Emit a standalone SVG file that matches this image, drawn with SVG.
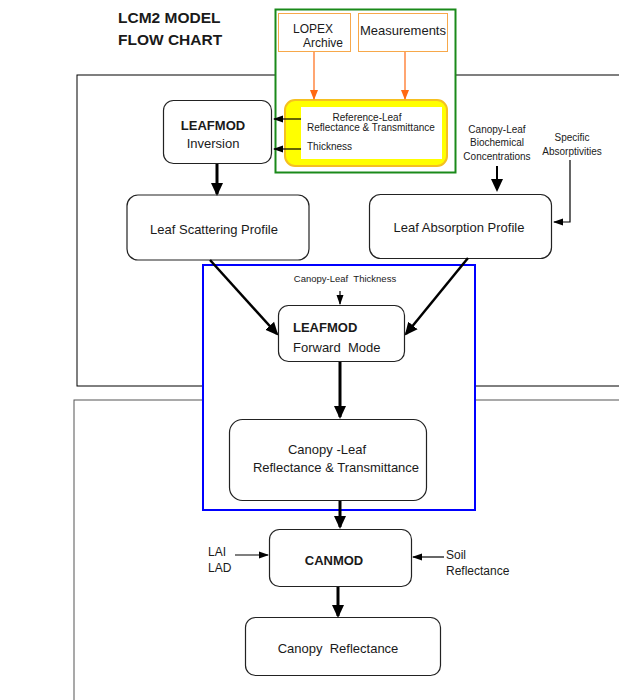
<svg xmlns="http://www.w3.org/2000/svg" width="619" height="700" viewBox="0 0 619 700">
<style>
text{font-family:"Liberation Sans",Arial,sans-serif;fill:#1a1a1a;white-space:pre}
.node{fill:#fff;stroke:#222;stroke-width:1.2}
.t13{font-size:13px}
.t12{font-size:12px}
.t10{font-size:10px}
.b{font-weight:bold}
.thick{stroke:#000;stroke-width:3;fill:none}
.thin{stroke:#000;stroke-width:1.2;fill:none}
.orange{stroke:#ff6a13;stroke-width:1.2;fill:none}
</style>
<defs>
<marker id="big" markerUnits="userSpaceOnUse" markerWidth="14" markerHeight="14" viewBox="0 0 14 14" refX="11" refY="7" orient="auto"><path d="M0,1 L13,7 L0,13 z" fill="#000"/></marker>
<marker id="small" markerUnits="userSpaceOnUse" markerWidth="10" markerHeight="10" viewBox="0 0 10 10" refX="9" refY="5" orient="auto"><path d="M0,1.5 L10,5 L0,8.5 z" fill="#000"/></marker>
<marker id="orangeHead" markerUnits="userSpaceOnUse" markerWidth="10" markerHeight="10" viewBox="0 0 10 10" refX="9" refY="5" orient="auto"><path d="M0,1 L10,5 L0,9 z" fill="#ff6a13"/></marker>
</defs>

<g id="frames">
<rect x="77" y="75" width="570" height="311" fill="none" stroke="#000" stroke-width="1"/>
<rect x="74" y="400" width="570" height="330" fill="none" stroke="#555" stroke-width="1"/>
<rect id="blue-box" x="203" y="265" width="272" height="245" fill="#fff" stroke="#0000ff" stroke-width="2"/>
<rect id="green-box" x="275.5" y="9.5" width="180" height="163" fill="#fff" stroke="#1a8a1a" stroke-width="2"/>
</g>

<g id="title">
<text x="118" y="23" style="font-size:15.5px;font-weight:bold">LCM2 MODEL</text>
<text x="118" y="45" style="font-size:15.5px;font-weight:bold">FLOW CHART</text>
</g>

<g id="lopex">
<rect x="278.5" y="13.5" width="72" height="38" fill="#fff" stroke="#f7a84a" stroke-width="1"/>
<text x="293" y="33" class="t12">LOPEX</text>
<text x="303" y="47" class="t12">Archive</text>
</g>
<g id="measurements">
<rect x="358.5" y="13.5" width="89" height="38" fill="#fff" stroke="#f7a84a" stroke-width="1"/>
<text x="403" y="35" class="t13" text-anchor="middle">Measurements</text>
</g>

<g id="reference-leaf">
<rect x="285" y="100" width="162" height="66" rx="10" fill="#ffff00" stroke="#f5c020" stroke-width="2"/>
<rect x="301" y="107" width="141" height="52" fill="#fff"/>
<text x="367" y="121" class="t10" text-anchor="middle">Reference-Leaf</text>
<text x="307" y="131" class="t10">Reflectance &amp; Transmittance</text>
<text x="307" y="150" class="t10">Thickness</text>
</g>

<g id="leafmod-inversion">
<rect x="163.5" y="100.5" width="108" height="63" rx="10" class="node"/>
<text x="213" y="130" class="t13 b" text-anchor="middle">LEAFMOD</text>
<text x="213" y="148" class="t13" text-anchor="middle">Inversion</text>
</g>

<g id="leaf-scattering">
<rect x="127" y="195" width="182" height="65" rx="11" class="node"/>
<text x="214" y="234" class="t13" text-anchor="middle">Leaf Scattering Profile</text>
</g>

<g id="leaf-absorption">
<rect x="369.5" y="194.5" width="182" height="64" rx="11" class="node"/>
<text x="459" y="232" class="t13" text-anchor="middle">Leaf Absorption Profile</text>
</g>

<g id="biochem-label">
<text x="497" y="133" class="t10" text-anchor="middle">Canopy-Leaf</text>
<text x="497" y="146" class="t10" text-anchor="middle">Biochemical</text>
<text x="497" y="160" class="t10" text-anchor="middle">Concentrations</text>
</g>
<g id="specific-label">
<text x="572" y="141" class="t10" text-anchor="middle">Specific</text>
<text x="572" y="155" class="t10" text-anchor="middle">Absorptivities</text>
</g>

<g id="thickness-label">
<text x="345" y="282" class="t10" text-anchor="middle" style="font-size:9.5px">Canopy-Leaf  Thickness</text>
</g>

<g id="leafmod-forward">
<rect x="278.5" y="305.5" width="126" height="56" rx="10" class="node"/>
<text x="293" y="332" class="t13 b">LEAFMOD</text>
<text x="293" y="352" class="t13">Forward  Mode</text>
</g>

<g id="canopy-leaf">
<rect x="229.5" y="419.5" width="197" height="81" rx="13" class="node"/>
<text x="327" y="454" class="t13" text-anchor="middle">Canopy -Leaf</text>
<text x="336" y="472" class="t13" text-anchor="middle">Reflectance &amp; Transmittance</text>
</g>

<g id="canmod">
<rect x="269.5" y="529.5" width="142" height="57" rx="10" class="node"/>
<text x="334" y="565" class="t13 b" text-anchor="middle">CANMOD</text>
</g>

<g id="lai-label">
<text x="208" y="556" class="t12">LAI</text>
<text x="208" y="572" class="t12">LAD</text>
</g>
<g id="soil-label">
<text x="446" y="559" class="t12">Soil</text>
<text x="446" y="575" class="t12">Reflectance</text>
</g>

<g id="canopy-reflectance">
<rect x="245.5" y="617.5" width="195" height="58" rx="10" class="node"/>
<text x="338" y="653" class="t13" text-anchor="middle">Canopy  Reflectance</text>
</g>

<g id="connectors">
<line x1="314" y1="52" x2="314" y2="99" class="orange" marker-end="url(#orangeHead)"/>
<line x1="405" y1="52" x2="405" y2="99" class="orange" marker-end="url(#orangeHead)"/>
<line x1="301" y1="119" x2="274" y2="119" class="thin" marker-end="url(#small)"/>
<line x1="301" y1="149" x2="274" y2="149" class="thin" marker-end="url(#small)"/>
<line x1="217" y1="164" x2="217" y2="194" class="thick" marker-end="url(#big)"/>
<line x1="497" y1="166" x2="497" y2="190" class="thick" style="stroke-width:2" marker-end="url(#big)"/>
<polyline points="570,160 570,222 554,222" class="thin" marker-end="url(#small)"/>
<line x1="210" y1="260" x2="277" y2="334" class="thick" style="stroke-width:2.5" marker-end="url(#big)"/>
<line x1="468" y1="258" x2="406" y2="334" class="thick" style="stroke-width:2.5" marker-end="url(#big)"/>
<line x1="340" y1="291" x2="340" y2="304" class="thin" marker-end="url(#small)"/>
<line x1="340" y1="362" x2="340" y2="417" class="thick" marker-end="url(#big)"/>
<line x1="340" y1="501" x2="340" y2="527" class="thick" marker-end="url(#big)"/>
<line x1="235" y1="555" x2="268" y2="555" class="thin" marker-end="url(#small)"/>
<line x1="444" y1="557" x2="413" y2="557" class="thin" marker-end="url(#small)"/>
<line x1="338" y1="587" x2="338" y2="616" class="thick" marker-end="url(#big)"/>
</g>
</svg>
